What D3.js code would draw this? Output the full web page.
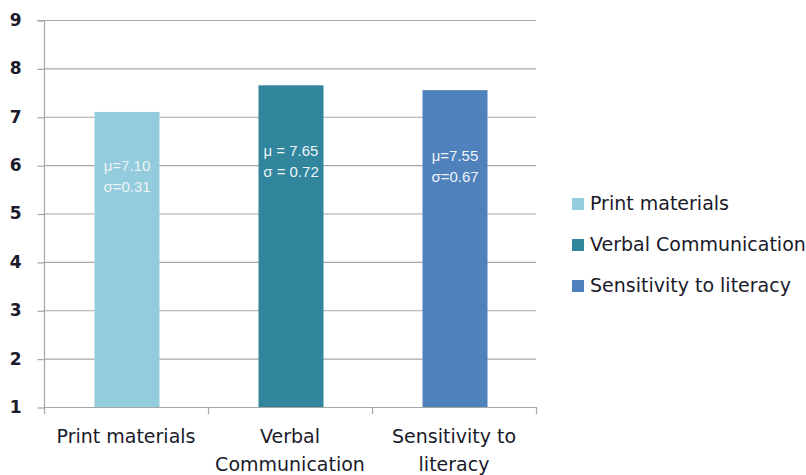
<!DOCTYPE html>
<html>
<head>
<meta charset="utf-8">
<script src="https://cdn.jsdelivr.net/npm/d3@7"></script>
<style>
  body { margin: 0; background: #fff; }
  svg { display: block; }
</style>
</head>
<body>
<svg id="chart" width="806" height="475"></svg>
<script>
// Mean scores per domain, with the standard deviation shown in each bar
const categories = ["Print materials", "Verbal Communication", "Sensitivity to literacy"];
const axisLabels = [["Print materials"], ["Verbal", "Communication"], ["Sensitivity to", "literacy"]];
const means = [7.10, 7.65, 7.55];
const sds = [0.31, 0.72, 0.67];
const barLabels = [["μ=7.10", "σ=0.31"], ["μ = 7.65", "σ = 0.72"], ["μ=7.55", "σ=0.67"]];
const yTicks = [1, 2, 3, 4, 5, 6, 7, 8, 9];
const colors = ["#93cddd", "#31859c", "#4f81bd"];

const svg = d3.select("#chart");
const font = "'DejaVu Sans', Verdana, sans-serif";
const textColor = "#1a1a2a";

const plot = { left: 44, right: 536, top: 20, bottom: 407 };

const x = d3.scaleBand().domain(categories).range([plot.left, plot.right]).paddingInner(0).paddingOuter(0);
const y = d3.scaleLinear().domain([1, 9]).range([plot.bottom, plot.top]);

// horizontal gridlines
svg.append("g")
  .selectAll("line")
  .data(yTicks.slice(1))
  .join("line")
  .attr("x1", plot.left).attr("x2", plot.right)
  .attr("y1", d => y(d) + 0.5).attr("y2", d => y(d) + 0.5)
  .attr("stroke", "#a6a6a6").attr("stroke-width", 1.2);

// bars
const barW = 65;
svg.append("g")
  .selectAll("rect")
  .data(categories)
  .join("rect")
  .attr("x", d => x(d) + x.bandwidth() / 2 - barW / 2 + 1)
  .attr("y", (d, i) => y(means[i]))
  .attr("width", barW)
  .attr("height", (d, i) => y(1) - y(means[i]))
  .attr("fill", (d, i) => colors[i]);

// value labels inside bars
const labelY = [[167, 188], [152, 173], [157, 178]];
categories.forEach((c, i) => {
  barLabels[i].forEach((t, j) => {
    svg.append("text")
      .attr("x", x(c) + x.bandwidth() / 2 + 1)
      .attr("y", labelY[i][j])
      .attr("text-anchor", "middle")
      .attr("dominant-baseline", "middle")
      .attr("font-family", "Arial, 'Liberation Sans', sans-serif")
      .attr("font-size", 15)
      .attr("fill", "#eef3f7")
      .text(t);
  });
});

// y axis
const yAxis = d3.axisLeft(y).tickValues(yTicks).tickSize(7).tickPadding(16).tickFormat(d3.format("d"));
const gy = svg.append("g").attr("transform", `translate(${plot.left + 0.5},0)`).call(yAxis);
gy.select(".domain").attr("stroke", "#a6a6a6").attr("stroke-width", 1.2).attr("d", `M-7,${plot.top + 0.5}H0V${plot.bottom + 0.5}`);
gy.selectAll(".tick line").attr("stroke", "#a6a6a6").attr("stroke-width", 1.2).attr("transform", "translate(0,0.5)");
gy.selectAll(".tick text").attr("font-family", font).attr("font-size", 17).attr("fill", textColor).attr("font-weight", "bold");

// x axis baseline with category boundary ticks
const bounds = [plot.left, ...categories.map(c => x(c) + x.bandwidth())];
const gx = svg.append("g");
gx.append("line")
  .attr("x1", plot.left).attr("x2", plot.right)
  .attr("y1", plot.bottom + 0.5).attr("y2", plot.bottom + 0.5)
  .attr("stroke", "#a6a6a6").attr("stroke-width", 1.2);
gx.selectAll("line.tick")
  .data(bounds)
  .join("line")
  .attr("class", "tick")
  .attr("x1", d => d + 0.5).attr("x2", d => d + 0.5)
  .attr("y1", plot.bottom).attr("y2", plot.bottom + 7)
  .attr("stroke", "#a6a6a6").attr("stroke-width", 1.2);

// category labels
categories.forEach((c, i) => {
  axisLabels[i].forEach((t, j) => {
    svg.append("text")
      .attr("x", x(c) + x.bandwidth() / 2)
      .attr("y", 437 + j * 28)
      .attr("text-anchor", "middle")
      .attr("dominant-baseline", "middle")
      .attr("font-family", font)
      .attr("font-size", 19)
      .attr("fill", textColor)
      .text(t);
  });
});

// legend
const legend = svg.append("g").attr("transform", "translate(572,204)");
categories.forEach((c, i) => {
  const row = legend.append("g").attr("transform", `translate(0,${i * 41})`);
  row.append("rect").attr("x", 0).attr("y", -6).attr("width", 12).attr("height", 12).attr("fill", colors[i]);
  row.append("text")
    .attr("x", 18).attr("y", 0)
    .attr("dominant-baseline", "middle")
    .attr("font-family", font)
    .attr("font-size", 19)
    .attr("fill", textColor)
    .text(c);
});
</script>
</body>
</html>
